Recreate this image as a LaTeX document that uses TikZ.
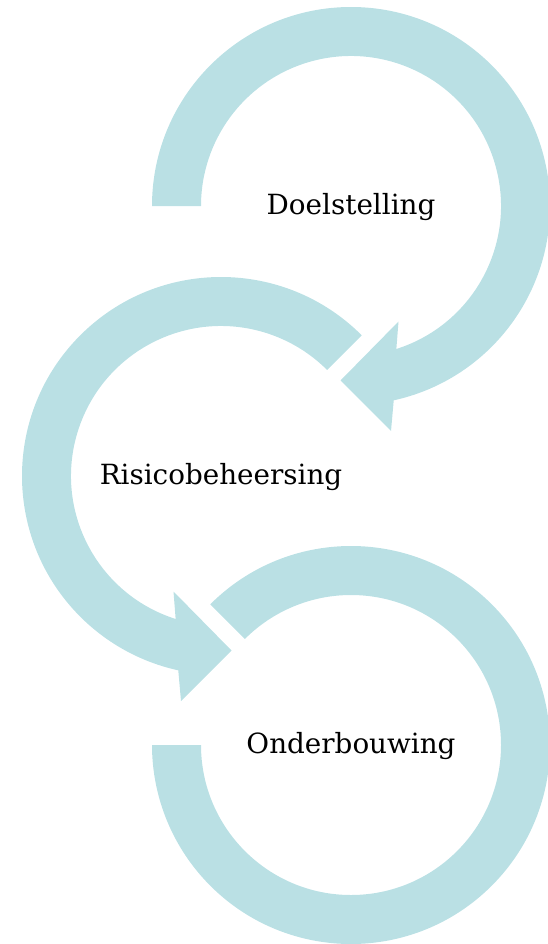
\documentclass[tikz,border=0pt]{standalone}
\usepackage{fontspec}
\setmainfont{DejaVu Serif}
\usetikzlibrary{calc}

\definecolor{ringblue}{RGB}{186,224,228}

\tikzset{
  ring/.style={fill=ringblue, draw=none},
  steplabel/.style={font=\fontsize{27.8}{33}\selectfont, text=black, inner sep=0pt}
}

\begin{document}
\begin{tikzpicture}[x=1pt, y=-1pt]
    \useasboundingbox (0,0) rectangle (548,944);
    \coordinate (c1) at (351,206);
    \coordinate (c2) at (221,476);
    \coordinate (c3) at (351,745);

    % top ring, arrow ends at lower right
    \fill[ring] ($(c1)+(180:199)$) arc[start angle=180, end angle=437.6, radius=199]
      -- ($(c1)+(40,225)$) -- ($(c1)+(-10.5,174.5)$) -- ($(c1)+(47.5,115.5)$)
      -- ($(c1)+(432.4:150)$) arc[start angle=432.4, end angle=180, radius=150] -- cycle;

    % middle ring, arrow ends at lower left
    \fill[ring] ($(c2)+(-45:199)$) arc[start angle=-45, end angle=-257.6, radius=199]
      -- ($(c2)+(-40,225)$) -- ($(c2)+(10.5,174.5)$) -- ($(c2)+(-47.5,115.5)$)
      -- ($(c2)+(-252.4:150)$) arc[start angle=-252.4, end angle=-45, radius=150] -- cycle;

    % bottom ring, no arrow
    \fill[ring] ($(c3)+(-135:199)$) arc[start angle=-135, end angle=180, radius=199]
      -- ($(c3)+(180:150)$) arc[start angle=180, end angle=-135, radius=150] -- cycle;

    \node[steplabel] (doel) at ($(c1)+(0,1)$) {Doelstelling};
    \node[steplabel] (risico) at ($(c2)+(0,1)$) {Risicobeheersing};
    \node[steplabel] (onder) at ($(c3)+(0,1)$) {Onderbouwing};
\end{tikzpicture}
\end{document}
